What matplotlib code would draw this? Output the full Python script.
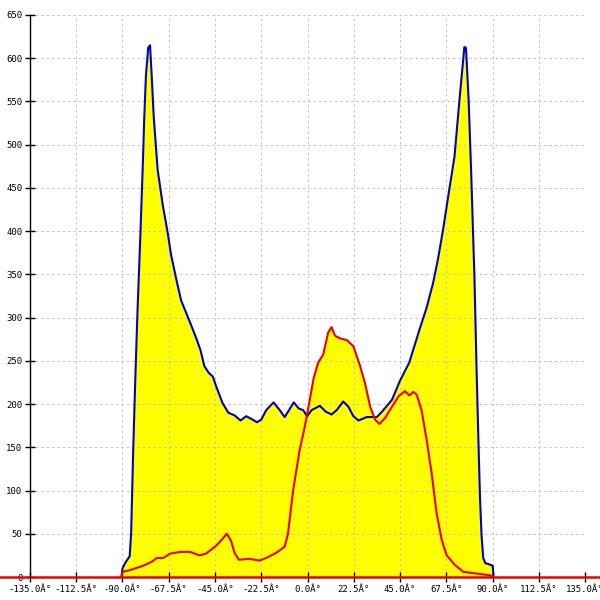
import matplotlib
matplotlib.use("Agg")
import matplotlib.pyplot as plt
import numpy as np

# angle (deg) / counts
blue_x = [-90.5, -90.0, -88.5, -86.5, -85.8, -84.8, -83.8, -82.7, -81.4, -80.2,
          -79.4, -78.6, -77.5, -76.6, -75.8, -74.8, -72.9, -70.4, -68.0, -66.4,
          -63.9, -61.5, -57.4, -54.1, -52.0, -50.2, -48.0, -46.1, -44.5, -41.3,
          -38.5, -35.5, -32.6, -29.8, -27.4, -24.6, -22.5, -20.1, -16.5, -13.5,
          -11.1, -9.0, -6.7, -4.3, -2.1, -0.2, 2.0, 6.0, 9.0, 11.7,
          14.2, 17.4, 19.9, 22.3, 24.8, 28.8, 33.7, 36.2, 41.1, 45.0,
          49.5, 54.6, 57.9, 61.1, 63.5, 65.9, 69.1, 71.5, 73.9, 75.5,
          76.3, 77.1, 78.4, 79.6, 81.2, 82.3, 83.1, 83.9, 84.7, 85.5,
          86.5, 88.0, 90.1, 90.5]
blue_y = [0, 10, 17, 24, 50, 146, 227, 308, 389, 471,
          532, 580, 612, 615, 580, 532, 471, 430, 398, 373,
          345, 320, 296, 276, 262, 244, 236, 232, 221, 201,
          190, 187, 181, 186, 183, 179, 182, 193, 202, 193,
          185, 193, 202, 195, 193, 186, 193, 198, 191, 188,
          193, 203, 197, 186, 181, 185, 185, 191, 205, 227,
          248, 287, 311, 340, 368, 401, 450, 486, 551, 592,
          613, 612, 551, 470, 348, 235, 162, 93, 47, 22,
          16, 15, 13, 0]

red_x = [-90.5, -90.0, -86.3, -79.9, -75.5, -73.3, -70.1, -66.9, -62.0, -57.1,
         -52.5, -49.4, -44.5, -41.0, -39.3, -37.2, -35.5, -33.4, -28.2, -23.3,
         -19.2, -15.2, -11.1, -9.5, -7.0, -3.8, -1.3, 1.1, 3.0, 5.2,
         7.6, 10.1, 11.7, 13.4, 15.8, 19.1, 22.3, 25.6, 28.0, 30.5,
         32.9, 35.0, 37.8, 41.1, 44.3, 47.4, 49.5, 51.5, 53.1, 55.5,
         58.0, 60.4, 62.8, 65.3, 67.7, 71.7, 75.8, 82.3, 88.8, 90.5]
red_y = [0, 6, 8, 13, 18, 22, 22, 27, 29, 29,
         25, 27, 36, 45, 50, 42, 28, 20, 21, 19,
         23, 28, 35, 50, 100, 147, 174, 205, 230, 248,
         257, 283, 289, 279, 276, 274, 267, 244, 224, 197,
         182, 177, 184, 197, 209, 215, 210, 214, 211, 193,
         158, 120, 74, 43, 25, 14, 6, 4, 2, 0]

x_ticks = [-135.0, -112.5, -90.0, -67.5, -45.0, -22.5, 0.0, 22.5, 45.0, 67.5, 90.0, 112.5, 135.0]
y_ticks = list(range(0, 651, 50))

fig = plt.figure(figsize=(6, 6), dpi=100)
ax = fig.add_axes([0.05, 0.0383, 0.925, 0.9367])

ax.fill_between(blue_x, blue_y, color="#ffff00", lw=0, zorder=1)
ax.fill_between(red_x, red_y, color="#ffff00", lw=0, zorder=1)
ax.plot(blue_x, blue_y, color="#0000cc", lw=1.5, zorder=3)
ax.plot(red_x, red_y, color="#ee0000", lw=1.5, zorder=3)
# baseline runs across the whole picture
ax.axhline(0, xmin=-0.06, xmax=1.06, color="#ee0000", lw=1.8, zorder=4, clip_on=False)

ax.set_xlim(-135, 135)
ax.set_ylim(0, 650)
ax.set_xticks(x_ticks)
ax.set_xticklabels([f"{v:.1f}\u00c2\u00b0" for v in x_ticks])
ax.set_yticks(y_ticks)
ax.set_yticklabels([str(v) for v in y_ticks])

ax.set_axisbelow(False)
ax.grid(True, color="#c4c4c4", linestyle=(0, (2.5, 3)), lw=0.7)
for s in ["top", "right"]:
    ax.spines[s].set_visible(False)
ax.spines["left"].set_linewidth(1.0)
ax.spines["left"].set_zorder(5)
ax.spines["bottom"].set_visible(False)

ax.tick_params(direction="inout", length=7, width=1, colors="black",
               labelsize=6.5, pad=2)
for lab in ax.get_xticklabels() + ax.get_yticklabels():
    lab.set_family("DejaVu Sans Mono")

fig.savefig("out.png", dpi=100)
